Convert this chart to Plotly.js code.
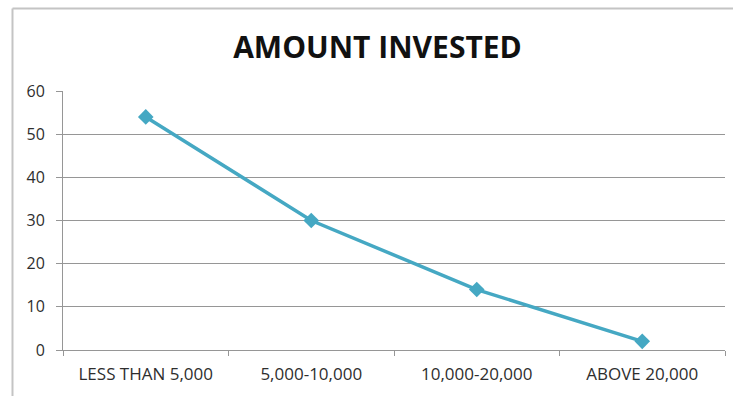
<!DOCTYPE html>
<html>
<head>
<meta charset="utf-8">
<script src="https://cdn.plot.ly/plotly-3.0.1.min.js"></script>
<style>
  html, body { margin: 0; padding: 0; background: #ffffff; }
  #chart { width: 733px; height: 396px; }
</style>
</head>
<body>
<div id="chart"></div>
<script>
// Investment bands and share of respondents in each
const categories = ["LESS THAN 5,000", "5,000-10,000", "10,000-20,000", "ABOVE 20,000"];
const amountInvested = [54, 30, 14, 2];
const yTickValues = [0, 10, 20, 30, 40, 50, 60];

const lineColor = "#45a8c3";
const gridColor = "#969696";
const textColor = "#2e2e2e";
const fontFamily = "'Open Sans', 'Liberation Sans', sans-serif";

const trace = {
  x: categories,
  y: amountInvested,
  type: "scatter",
  mode: "lines+markers",
  line: { color: lineColor, width: 3.5 },
  marker: { symbol: "diamond", size: 12, color: lineColor },
  hoverinfo: "x+y",
  showlegend: false
};

// Outer frame of the chart area (top and left edges)
const frameColor = "#c4c4c4";
const frame = [
  { type: "line", xref: "paper", yref: "paper",
    x0: -0.0763, x1: 1.02, y0: 1.3185, y1: 1.3185,
    line: { color: frameColor, width: 2 } },
  { type: "line", xref: "paper", yref: "paper",
    x0: -0.0763, x1: -0.0763, y0: 1.3185, y1: -0.3,
    line: { color: frameColor, width: 2 } }
];

const layout = {
  width: 733,
  height: 396,
  margin: { l: 63, r: 8, t: 91, b: 46, pad: 0 },
  paper_bgcolor: "#ffffff",
  plot_bgcolor: "#ffffff",
  font: { family: fontFamily, color: textColor, size: 16 },
  title: {
    text: "<b>AMOUNT INVESTED</b>",
    font: { family: fontFamily, size: 30, color: "#111111" },
    x: 0.515, xanchor: "center",
    y: 0.88, yanchor: "middle"
  },
  xaxis: {
    type: "category",
    range: [-0.5, 3.5],
    showgrid: false,
    zeroline: false,
    showline: true,
    linecolor: gridColor,
    linewidth: 1,
    ticks: "outside",
    tickson: "boundaries",
    ticklen: 5,
    tickcolor: gridColor,
    tickfont: { size: 17, color: textColor, family: fontFamily, weight: 500 },
    ticklabelstandoff: 9,
    fixedrange: true
  },
  yaxis: {
    range: [0, 60],
    tickvals: yTickValues,
    showgrid: true,
    gridcolor: gridColor,
    gridwidth: 1,
    zeroline: false,
    showline: true,
    linecolor: gridColor,
    linewidth: 1,
    ticks: "outside",
    ticklen: 6,
    tickcolor: gridColor,
    tickfont: { size: 16, color: textColor, family: fontFamily, weight: 500 },
    ticklabelstandoff: 8,
    fixedrange: true
  },
  shapes: frame
};

Plotly.newPlot("chart", [trace], layout, { displayModeBar: false, staticPlot: true });
</script>
</body>
</html>
